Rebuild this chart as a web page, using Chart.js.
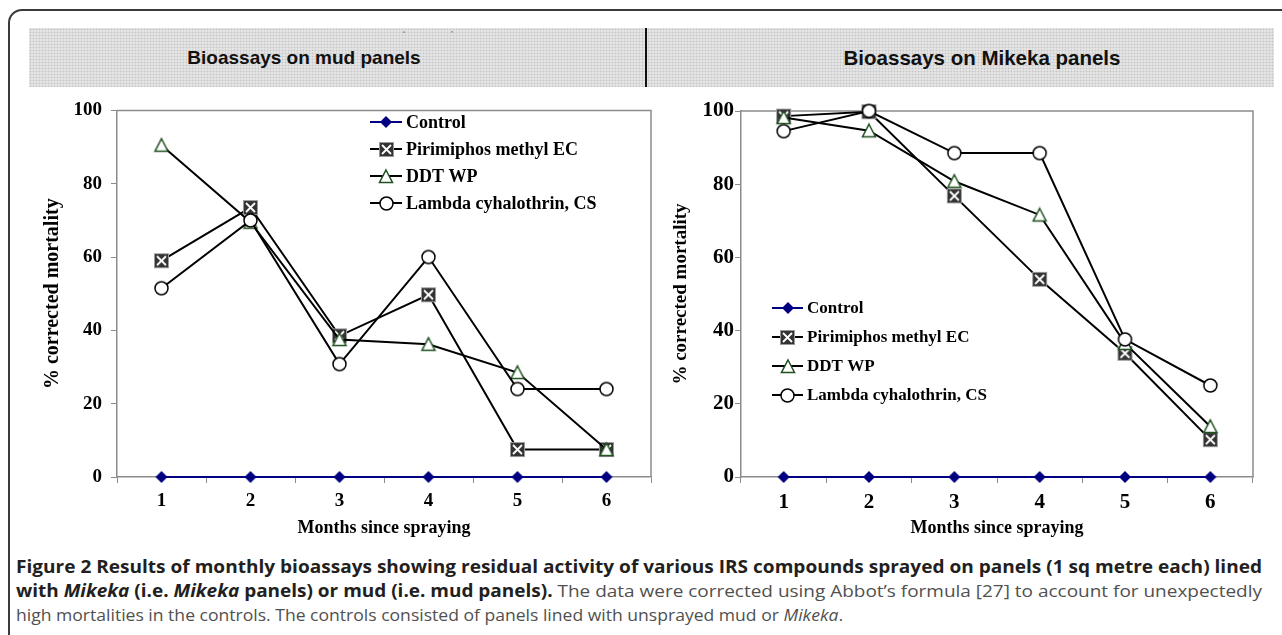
<!DOCTYPE html>
<html><head><meta charset="utf-8">
<script src="https://cdn.jsdelivr.net/npm/chart.js@4.4.0/dist/chart.umd.min.js"></script>
<style>
html,body{margin:0;padding:0;background:#fff;width:1282px;height:635px;overflow:hidden;}
body{position:relative;}
#frame{position:absolute;left:8px;top:9px;width:1310px;height:660px;border:2px solid #3a3a3a;border-radius:14px;box-sizing:border-box;}
.band{position:absolute;top:28px;height:59px;background-color:#e4e4e4;background-image:radial-gradient(circle,#c4c4c4 0.8px,transparent 1.1px);background-size:3px 3px;}
#bandL{left:29px;width:617px;}
#bandR{left:647px;width:627px;}
#divider{position:absolute;left:645px;top:28px;width:2px;height:59px;background:#111;}
.htitle{position:absolute;top:28px;height:59px;line-height:59px;font-family:"Liberation Sans",Arial,sans-serif;font-weight:bold;color:#111;white-space:nowrap;transform:translateX(-50%);}
.mark{position:absolute;top:29px;font-family:"Liberation Sans",Arial,sans-serif;font-size:9px;color:#555;}
.cv{position:absolute;top:90px;}
.cap{position:absolute;left:16px;white-space:nowrap;font-family:"Open Sans","Noto Sans",sans-serif;font-size:17px;line-height:24px;color:#505050;transform-origin:0 0;}
.cap b{color:#231f20;font-weight:700;}
</style>
</head>
<body>
<div id="frame"></div>
<div class="band" id="bandL"></div>
<div class="band" id="bandR"></div>
<div id="divider"></div>
<span class="mark" style="left:403px">‘</span>
<span class="mark" style="left:451px">’</span>
<div class="htitle" style="left:304px;font-size:19px">Bioassays on mud panels</div>
<div class="htitle" style="left:982px;font-size:20.5px">Bioassays on Mikeka panels</div>
<canvas id="c1" class="cv" style="left:0" width="660" height="460"></canvas>
<canvas id="c2" class="cv" style="left:660px" width="622" height="460"></canvas>
<div class="cap" id="cap1" style="top:555px" data-w="1246"><b>Figure 2 Results of monthly bioassays showing residual activity of various IRS compounds sprayed on panels (1 sq metre each) lined</b></div>
<div class="cap" id="cap2" style="top:579px" data-w="1246"><b>with <i>Mikeka</i> (i.e. <i>Mikeka</i> panels) or mud (i.e. mud panels).</b> The data were corrected using Abbot’s formula [27] to account for unexpectedly</div>
<div class="cap" id="cap3" style="top:603px" data-w="827">high mortalities in the controls. The controls consisted of panels lined with unsprayed mud or <i>Mikeka</i>.</div>
<script>
// ---- data ----
const months = ['1','2','3','4','5','6'];
const seriesNames = ['Control','Pirimiphos methyl EC','DDT WP','Lambda cyhalothrin, CS'];
const yTicks = [0,20,40,60,80,100];
const controlMud = [0,0,0,0,0,0];
const pirimiphosMud = [59, 73.5, 38.5, 49.7, 7.5, 7.5];
const ddtMud = [90.5, 69.5, 37.5, 36.2, 28.5, 7.5];
const lambdaMud = [51.5, 70, 30.8, 60, 24, 24];
const controlMikeka = [0,0,0,0,0,0];
const pirimiphosMikeka = [98.6, 99.8, 76.8, 54, 33.8, 10.2];
const ddtMikeka = [98.2, 94.6, 80.8, 71.6, 36.5, 13.8];
const lambdaMikeka = [94.5, 100, 88.5, 88.5, 37.6, 25];

// caption fit
document.querySelectorAll('.cap').forEach(el=>{
  const w = el.getBoundingClientRect().width;
  const t = +el.dataset.w;
  el.style.transform = 'scaleX(' + (t/w) + ')';
});

// ---- markers ----
function mk(w,h,fn){const c=document.createElement('canvas');c.width=w;c.height=h;fn(c.getContext('2d'));return c;}
const mDiamond = mk(14,14,g=>{g.fillStyle='#000080';g.beginPath();g.moveTo(7,1);g.lineTo(13,7);g.lineTo(7,13);g.lineTo(1,7);g.closePath();g.fill();});
const mSquareX = mk(17,17,g=>{g.fillStyle='#333';g.fillRect(1,1,15,15);g.strokeStyle='#9a9a9a';g.lineWidth=1;g.strokeRect(1.5,1.5,14,14);
  g.strokeStyle='#fff';g.lineWidth=1.8;g.beginPath();g.moveTo(4,4);g.lineTo(13,13);g.moveTo(13,4);g.lineTo(4,13);g.stroke();});
const mTriangle = mk(18,17,g=>{g.fillStyle='#fff';g.strokeStyle='#1f4f1f';g.lineWidth=1.5;g.beginPath();g.moveTo(9,2);g.lineTo(15.5,14.5);g.lineTo(2.5,14.5);g.closePath();g.fill();g.stroke();});
const mCircle = mk(17,17,g=>{g.fillStyle='#fff';g.strokeStyle='#000';g.lineWidth=1.5;g.beginPath();g.arc(8.5,8.5,6.5,0,Math.PI*2);g.fill();g.stroke();});
const markers = [mDiamond,mSquareX,mTriangle,mCircle];
const lineColors = ['#000080','#000','#000','#000'];
const orders = [0,3,2,1];

function makeDatasets(vals){
  return vals.map((v,i)=>({label:seriesNames[i],data:v,borderColor:lineColors[i],backgroundColor:lineColors[i],borderWidth:2,
    pointStyle:markers[i],pointRadius:7,pointHoverRadius:7,tension:0,clip:false,order:orders[i]}));
}

const plotBorder = {id:'plotBorder',beforeDatasetsDraw(chart){const {ctx,chartArea:{left,top,right,bottom}}=chart;ctx.save();ctx.strokeStyle='#8c8c8c';ctx.lineWidth=1.5;ctx.beginPath();ctx.moveTo(left,top);ctx.lineTo(right,top);ctx.lineTo(right,bottom);ctx.stroke();ctx.restore();}};

function legendPlugin(cfg){return {id:'customLegend',afterDatasetsDraw(chart){
  const ctx=chart.ctx;ctx.save();
  chart.data.datasets.forEach((ds,i)=>{
    const y=cfg.y0+i*cfg.dy;
    ctx.strokeStyle=ds.borderColor;ctx.lineWidth=2;ctx.beginPath();ctx.moveTo(cfg.x0,y);ctx.lineTo(cfg.x0+cfg.len,y);ctx.stroke();
    const m=ds.pointStyle;ctx.drawImage(m,Math.round(cfg.x0+cfg.len/2-m.width/2),Math.round(y-m.height/2));
    ctx.fillStyle='#000';ctx.font=cfg.font;ctx.textBaseline='middle';ctx.textAlign='left';
    ctx.fillText(ds.label,cfg.x0+cfg.len+cfg.gap,y+1);
  });
  ctx.restore();}};}

function makeChart(id,vals,o){
  const serif='"Liberation Serif","Times New Roman",serif';
  return new Chart(document.getElementById(id),{
    type:'line',
    data:{labels:months,datasets:makeDatasets(vals)},
    options:{responsive:false,devicePixelRatio:1,animation:false,
      layout:{padding:{top:o.pt,right:o.pr,left:0,bottom:0}},
      plugins:{legend:{display:false},tooltip:{enabled:false}},
      scales:{
        x:{type:'category',offset:true,
          grid:{offset:true,drawOnChartArea:false,drawTicks:true,tickLength:6,color:'#8c8c8c',lineWidth:1},
          border:{display:true,color:'#8c8c8c',width:1.5},
          ticks:{color:'#000',font:{family:serif,weight:'bold',size:o.tick},padding:7,maxRotation:0},
          title:{display:true,text:'Months since spraying',color:'#000',font:{family:serif,weight:'bold',size:o.xt},padding:{top:0,bottom:11}},
          afterFit:s=>{s.height=73;}},
        y:{min:0,max:100,
          afterBuildTicks:s=>{s.ticks=yTicks.map(v=>({value:v}));},
          grid:{drawOnChartArea:false,drawTicks:true,tickLength:6,color:'#8c8c8c',lineWidth:1},
          border:{display:true,color:'#8c8c8c',width:1.5},
          ticks:{color:'#000',font:{family:serif,weight:'bold',size:o.tick},padding:o.yp},
          title:{display:true,text:'% corrected mortality',color:'#000',font:{family:serif,weight:'bold',size:o.yt},padding:{top:o.ytp,bottom:0}},
          afterFit:s=>{s.width=o.yw;}}
      }},
    plugins:[plotBorder,legendPlugin(o.leg)]
  });
}

makeChart('c1',[controlMud,pirimiphosMud,ddtMud,lambdaMud],
  {pt:14,pr:7,yw:117,tick:19,yp:9,xt:18,yt:20,ytp:41,
   leg:{x0:370,len:32,gap:4,y0:32,dy:27,font:'bold 18px "Liberation Serif", serif'}});
makeChart('c2',[controlMikeka,pirimiphosMikeka,ddtMikeka,lambdaMikeka],
  {pt:21,pr:29,yw:81,tick:21,yp:1,xt:18,yt:19,ytp:10,
   leg:{x0:112,len:31,gap:4,y0:218,dy:29,font:'bold 17px "Liberation Serif", serif'}});
</script>
</body></html>
